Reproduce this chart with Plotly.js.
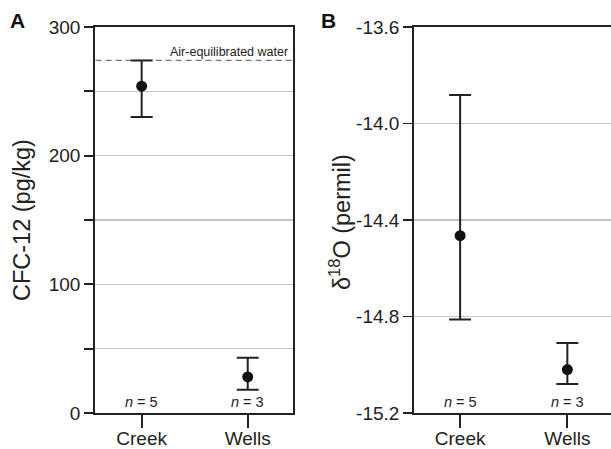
<!DOCTYPE html>
<html>
<head>
<meta charset="utf-8">
<script src="https://cdn.plot.ly/plotly-3.0.1.min.js"></script>
<style>html,body{margin:0;padding:0;overflow:hidden;background:#fff}</style>
</head>
<body>
<div id="chart" style="width:611px;height:449px"></div>
<script>
// Data
var categories = ['Creek', 'Wells'];
var nLabels = ['5', '3'];
var cfcMean = [254, 28];
var cfcUpper = [274, 43];
var cfcLower = [230, 18];
var airEquilibrated = 274;
var d18oMean = [-14.465, -15.02];
var d18oUpper = [-13.882, -14.91];
var d18oLower = [-14.812, -15.08];
var cfcTickVals = [0, 50, 100, 150, 200, 250, 300];
var cfcTickText = ['0', '', '100', '', '200', '', '300'];
var d18oTickVals = [-15.2, -14.8, -14.4, -14.0, -13.6];
var d18oTickText = ['-15.2', '-14.8', '-14.4', '-14.0', '-13.6'];

var xpos = categories.map(function (c, i) { return i; });
function diff(a, b) { return a.map(function (v, i) { return v - b[i]; }); }

var FONT = 'Liberation Sans, Arial, Helvetica, sans-serif';
var AX = '#222';

var traceA = {
  x: xpos, y: cfcMean, xaxis: 'x', yaxis: 'y', type: 'scatter', mode: 'markers',
  marker: {color: '#111', size: 11},
  error_y: {type: 'data', symmetric: false, array: diff(cfcUpper, cfcMean), arrayminus: diff(cfcMean, cfcLower),
    color: '#222', thickness: 2, width: 11},
  showlegend: false, hoverinfo: 'none'
};
var traceAir = {
  x: [-1, 3], y: [airEquilibrated, airEquilibrated], xaxis: 'x', yaxis: 'y', type: 'scatter', mode: 'lines',
  line: {color: '#777', width: 1.3, dash: '6px,4px'}, showlegend: false, hoverinfo: 'none'
};
var traceB = {
  x: xpos, y: d18oMean, xaxis: 'x2', yaxis: 'y2', type: 'scatter', mode: 'markers',
  marker: {color: '#111', size: 11},
  error_y: {type: 'data', symmetric: false, array: diff(d18oUpper, d18oMean), arrayminus: diff(d18oMean, d18oLower),
    color: '#222', thickness: 2, width: 11},
  showlegend: false, hoverinfo: 'none'
};

function xaxisCfg(domain, range, anchor) {
  return {
    domain: domain, range: range, anchor: anchor,
    tickvals: xpos, ticktext: categories,
    ticks: 'outside', ticklen: 13, tickwidth: 1.8, tickcolor: AX,
    ticklabelstandoff: -6,
    showline: true, linecolor: AX, linewidth: 1.8, mirror: true,
    showgrid: false, zeroline: false,
    tickfont: {family: FONT, size: 19, color: AX}
  };
}
var ydom = [1 - 413 / 449, 1 - 27 / 449];

var annotations = [
  {text: '<b>A</b>', xref: 'paper', yref: 'paper', x: 17.5 / 611, y: 1 - 20.5 / 449, showarrow: false,
    font: {family: FONT, size: 21, color: '#111'}, xanchor: 'center', yanchor: 'middle'},
  {text: '<b>B</b>', xref: 'paper', yref: 'paper', x: 328.5 / 611, y: 1 - 20.5 / 449, showarrow: false,
    font: {family: FONT, size: 21, color: '#111'}, xanchor: 'center', yanchor: 'middle'},
  {text: 'CFC-12 (pg/kg)', xref: 'paper', yref: 'paper', x: 22 / 611, y: 1 - 220 / 449, textangle: -90,
    showarrow: false, font: {family: FONT, size: 23.5, color: AX}, xanchor: 'center', yanchor: 'middle'},
  {text: 'δ<sup>18</sup>O (permil)', xref: 'paper', yref: 'paper', x: 340 / 611, y: 1 - 222 / 449, textangle: -90,
    showarrow: false, font: {family: FONT, size: 23.5, color: AX}, xanchor: 'center', yanchor: 'middle'},
  {text: 'Air-equilibrated water', xref: 'paper', yref: 'y', x: 290 / 611, y: airEquilibrated, showarrow: false,
    font: {family: FONT, size: 12.5, color: '#222'}, xanchor: 'right', yanchor: 'bottom', yshift: -1}
];
categories.forEach(function (c, i) {
  annotations.push({text: '<i>n</i> = ' + nLabels[i], xref: 'x', yref: 'y domain', x: xpos[i], y: 0.002,
    showarrow: false, font: {family: FONT, size: 14.5, color: '#222'}, xanchor: 'center', yanchor: 'bottom'});
  annotations.push({text: '<i>n</i> = ' + nLabels[i], xref: 'x2', yref: 'y2 domain', x: xpos[i], y: 0.002,
    showarrow: false, font: {family: FONT, size: 14.5, color: '#222'}, xanchor: 'center', yanchor: 'bottom'});
});

var layout = {
  width: 611, height: 449,
  margin: {l: 0, r: 0, t: 0, b: 0},
  paper_bgcolor: '#fff', plot_bgcolor: '#fff',
  xaxis: xaxisCfg([95 / 611, 293 / 611], [-0.44, 1.427], 'y'),
  xaxis2: xaxisCfg([414 / 611, 1], [-0.43, 1.407], 'y2'),
  yaxis: {
    domain: ydom, range: [0, 300], anchor: 'x',
    tickvals: cfcTickVals, ticktext: cfcTickText,
    ticks: 'outside', ticklen: 9, tickwidth: 1.8, tickcolor: AX,
    showline: true, linecolor: AX, linewidth: 1.8, mirror: true,
    showgrid: true, gridcolor: '#c4c4c4', gridwidth: 1.2, zeroline: false,
    tickfont: {family: FONT, size: 19, color: AX}
  },
  yaxis2: {
    domain: ydom, range: [-15.2, -13.6], anchor: 'x2',
    tickvals: d18oTickVals, ticktext: d18oTickText,
    ticks: 'outside', ticklen: 9, tickwidth: 1.8, tickcolor: AX,
    showline: true, linecolor: AX, linewidth: 1.8, mirror: false,
    showgrid: true, gridcolor: '#c4c4c4', gridwidth: 1.2, zeroline: false,
    tickfont: {family: FONT, size: 19, color: AX}
  },
  annotations: annotations
};

Plotly.newPlot('chart', [traceAir, traceA, traceB], layout, {displayModeBar: false, staticPlot: true});
</script>
</body>
</html>
